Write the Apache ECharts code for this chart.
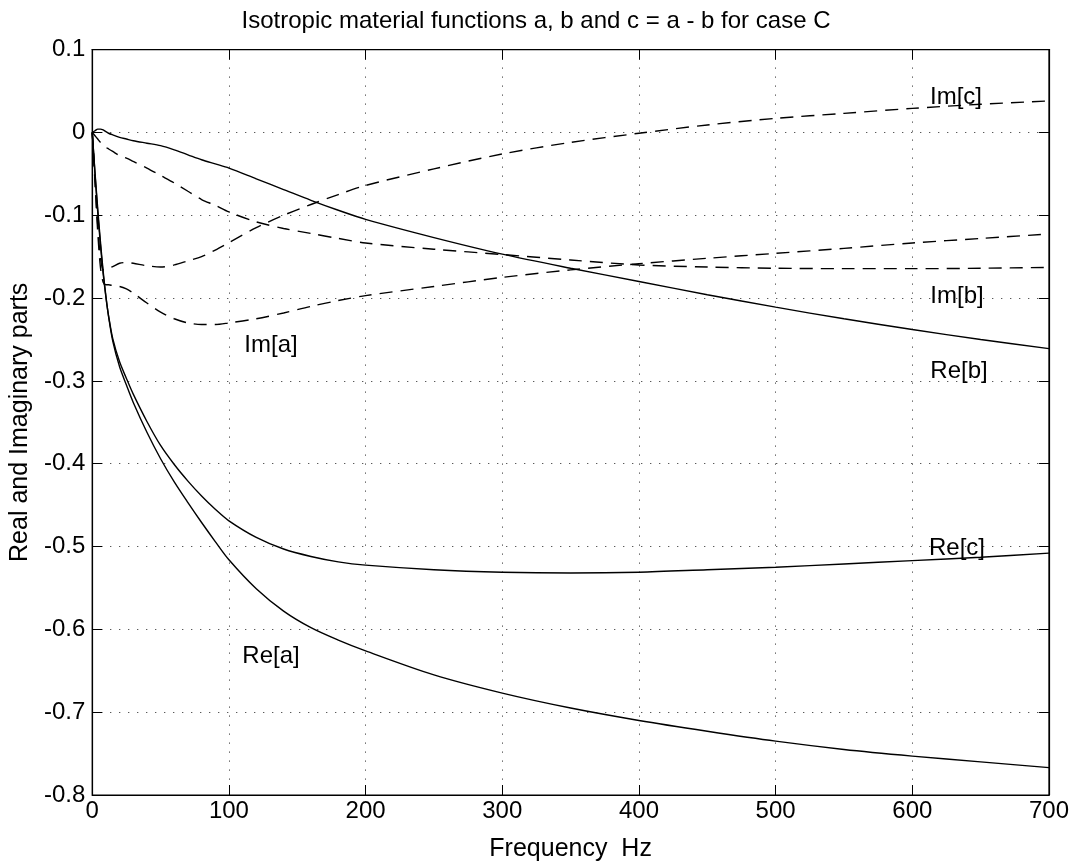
<!DOCTYPE html>
<html>
<head>
<meta charset="utf-8">
<script src="https://cdn.jsdelivr.net/npm/echarts@6/dist/echarts.min.js"></script>
<style>
html,body{margin:0;padding:0;background:#fff;}
#chart{width:1072px;height:867px;}
</style>
</head>
<body>
<div id="chart"></div>
<script>
// Frequency grid (Hz)
var freq = [0, 2, 4, 6, 8, 10, 12, 15, 20, 25, 30, 40, 50, 60, 70, 80, 90, 100, 120, 140, 160, 180, 200, 250, 300, 350, 400, 450, 500, 550, 600, 650, 700];
// Series values
var reA = [0, -0.048, -0.092, -0.132, -0.168, -0.198, -0.223, -0.252, -0.283, -0.305, -0.326, -0.362, -0.394, -0.422, -0.447, -0.471, -0.494, -0.516, -0.551, -0.578, -0.598, -0.613, -0.626, -0.655, -0.677, -0.695, -0.710, -0.723, -0.735, -0.745, -0.753, -0.760, -0.767];
var reB = [0, 0.002, 0.004, 0.004, 0.003, 0.001, -0.001, -0.003, -0.006, -0.008, -0.010, -0.013, -0.016, -0.021, -0.027, -0.033, -0.038, -0.043, -0.056, -0.069, -0.082, -0.094, -0.105, -0.127, -0.147, -0.164, -0.180, -0.196, -0.211, -0.225, -0.238, -0.250, -0.261];
var reC = [0, -0.050, -0.096, -0.136, -0.171, -0.199, -0.222, -0.249, -0.277, -0.297, -0.316, -0.349, -0.378, -0.401, -0.421, -0.439, -0.455, -0.469, -0.489, -0.503, -0.512, -0.5185, -0.5225, -0.528, -0.531, -0.532, -0.531, -0.528, -0.525, -0.521, -0.517, -0.513, -0.508];
var imA = [0, -0.06, -0.12, -0.163, -0.181, -0.184, -0.184, -0.185, -0.186, -0.189, -0.194, -0.206, -0.217, -0.225, -0.230, -0.232, -0.232, -0.230, -0.225, -0.218, -0.210, -0.203, -0.197, -0.186, -0.175, -0.166, -0.1585, -0.152, -0.146, -0.140, -0.1335, -0.128, -0.1227];
var imB = [0, -0.004, -0.008, -0.012, -0.015, -0.018, -0.020, -0.023, -0.028, -0.031, -0.035, -0.043, -0.052, -0.061, -0.071, -0.081, -0.088, -0.096, -0.108, -0.116, -0.122, -0.128, -0.1335, -0.141, -0.1474, -0.154, -0.160, -0.1625, -0.164, -0.1645, -0.1645, -0.164, -0.163];
var imC = [0, -0.056, -0.112, -0.151, -0.166, -0.166, -0.164, -0.162, -0.158, -0.157, -0.158, -0.161, -0.1625, -0.160, -0.155, -0.150, -0.142, -0.133, -0.115, -0.100, -0.087, -0.075, -0.064, -0.044, -0.026, -0.012, -0.001, 0.009, 0.017, 0.023, 0.029, 0.034, 0.038];
// Axis ticks
var xTicks = [0, 100, 200, 300, 400, 500, 600, 700];
var yTicks = [-0.8, -0.7, -0.6, -0.5, -0.4, -0.3, -0.2, -0.1, 0, 0.1];
// Curve names and styles
var seriesNames = ['Re[a]', 'Re[b]', 'Re[c]', 'Im[a]', 'Im[b]', 'Im[c]'];
var seriesValues = [reA, reB, reC, imA, imB, imC];
var seriesDashed = [false, false, false, true, true, true];
var labelTexts = ['Im[c]', 'Im[b]', 'Re[b]', 'Re[c]', 'Im[a]', 'Re[a]'];

var FONT = '"Liberation Sans", Arial, Helvetica, sans-serif';
var FS = 24;
var FS_NAME = 25;

function pairs(vals) { return freq.map(function (f, i) { return [f, vals[i]]; }); }

var series = seriesNames.map(function (n, k) {
  return {
    name: n, type: 'line', data: pairs(seriesValues[k]),
    showSymbol: false, symbol: 'none', smooth: 0.3,
    lineStyle: { color: '#000', width: 1.4, type: seriesDashed[k] ? [13, 8] : 'solid' },
    xAxisIndex: 0, yAxisIndex: 0, silent: true
  };
});

var labelPos = [[956, 97], [957, 296], [959, 371], [957, 548], [271, 345], [271, 656]];
var graphics = labelTexts.map(function (t, i) {
  return { type: 'text', x: labelPos[i][0], y: labelPos[i][1], silent: true,
    style: { text: t, font: FS + 'px ' + FONT, fill: '#000', textAlign: 'center', textVerticalAlign: 'middle' } };
});

var chart = echarts.init(document.getElementById('chart'), null, { renderer: 'canvas' });
var gridLine = { show: true, lineStyle: { color: '#222', width: 1, type: [1, 8] } };
var tick = { show: true, inside: true, length: 10, lineStyle: { color: '#000', width: 1 } };
var axLine = { show: true, onZero: false, lineStyle: { color: '#000', width: 1.2 } };
chart.setOption({
  animation: false,
  backgroundColor: '#fff',
  title: { text: 'Isotropic material functions a, b and c = a - b for case C', left: 'center', top: 4,
    textStyle: { fontFamily: FONT, fontSize: FS, fontWeight: 'normal', color: '#000' } },
  grid: { left: 91, right: 22, top: 49.6, bottom: 64, containLabel: false, show: true, borderColor: '#000', borderWidth: 1.2 },
  xAxis: [
    { type: 'value', min: xTicks[0], max: xTicks[xTicks.length - 1], interval: 100, position: 'bottom',
      name: 'Frequency  Hz', nameLocation: 'middle', nameGap: 42,
      nameTextStyle: { fontFamily: FONT, fontSize: FS_NAME, color: '#000' },
      axisLine: axLine, axisTick: tick,
      axisLabel: { fontFamily: FONT, fontSize: FS, color: '#000', margin: 4 },
      splitLine: gridLine },
    { type: 'value', min: xTicks[0], max: xTicks[xTicks.length - 1], interval: 100, position: 'top',
      axisLine: axLine, axisTick: tick,
      axisLabel: { show: false }, splitLine: { show: false } }
  ],
  yAxis: [
    { type: 'value', min: yTicks[0], max: yTicks[yTicks.length - 1], interval: 0.1, position: 'left',
      name: 'Real and Imaginary parts', nameLocation: 'middle', nameGap: 50, nameRotate: 90,
      nameTextStyle: { fontFamily: FONT, fontSize: FS_NAME, color: '#000' },
      axisLine: axLine, axisTick: tick,
      axisLabel: { fontFamily: FONT, fontSize: FS, color: '#000', margin: 7,
        formatter: function (v) { var r = Math.round(v * 10) / 10; return r === 0 ? '0' : String(r); } },
      splitLine: gridLine },
    { type: 'value', min: yTicks[0], max: yTicks[yTicks.length - 1], interval: 0.1, position: 'right',
      axisLine: axLine, axisTick: tick,
      axisLabel: { show: false }, splitLine: { show: false } }
  ],
  series: series,
  graphic: graphics
});
</script>
</body>
</html>
